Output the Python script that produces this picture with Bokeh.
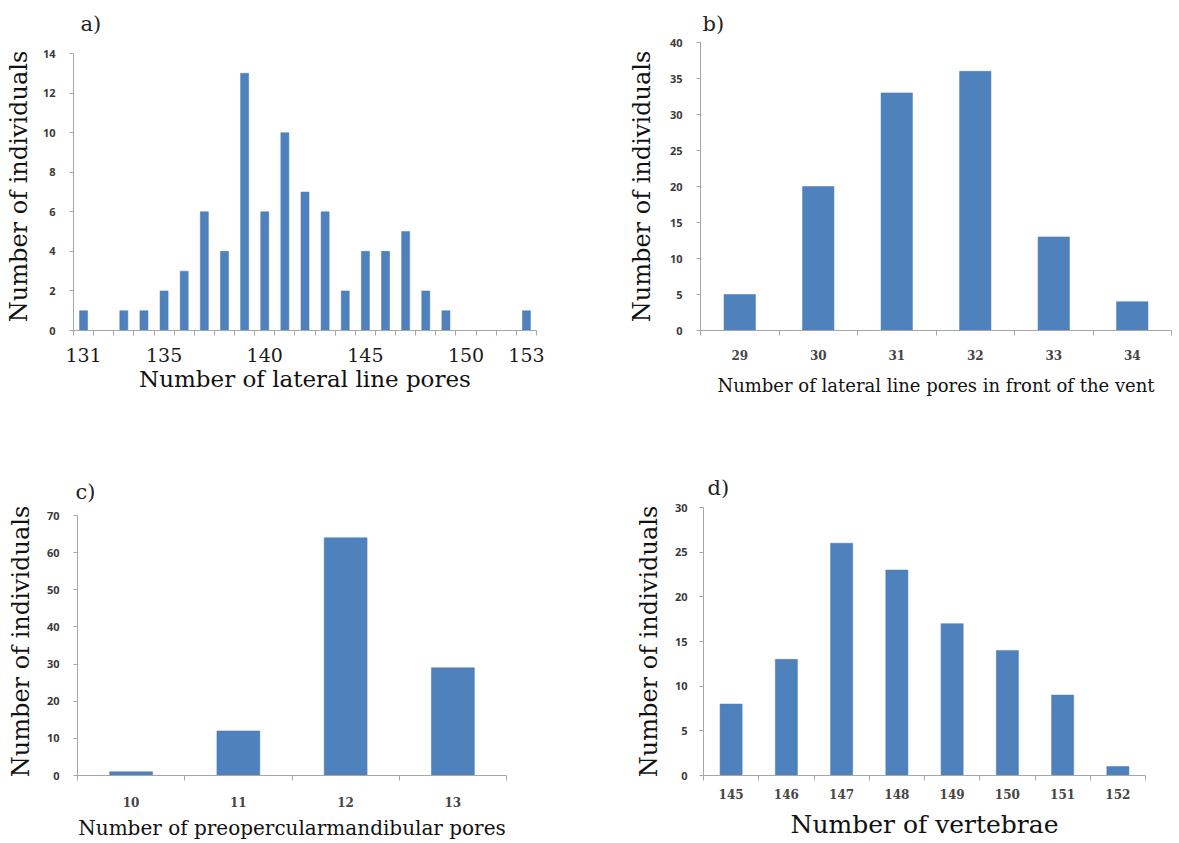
from bokeh.plotting import figure
from bokeh.models import Range1d, FixedTicker
from bokeh.layouts import row, column
from bokeh.embed import file_html
from bokeh.resources import INLINE

# ---------------- data ----------------
a_pores = [131, 133, 134, 135, 136, 137, 138, 139, 140, 141, 142, 143, 144, 145, 146, 147, 148, 149, 153]
a_counts = [1, 1, 1, 2, 3, 6, 4, 13, 6, 10, 7, 6, 2, 4, 4, 5, 2, 1, 1]
a_tick_labels = [131, 135, 140, 145, 150, 153]
a_range = [131, 153]

b_pores = [29, 30, 31, 32, 33, 34]
b_counts = [5, 20, 33, 36, 13, 4]

c_pores = [10, 11, 12, 13]
c_counts = [1, 12, 64, 29]

d_vertebrae = [145, 146, 147, 148, 149, 150, 151, 152]
d_counts = [8, 13, 26, 23, 17, 14, 9, 1]

BAR = "#4f81bd"
AXIS = "#a6a6a6"
SERIF = "DejaVu Serif"


def panel(letter, xs, ys, lo, hi, xticks, ymax, ystep, xlabel, w, h,
          borders, top_gap, xtick_font, xtick_size, xtick_style, xtick_color,
          xtick_standoff, xlabel_size, xlabel_standoff, ytick_standoff,
          ylabel_standoff, title_offset, title_standoff):
    left, right, top, bottom = borders
    frame_h = h - top - bottom
    y_end = ymax * frame_h / (frame_h - top_gap)
    p = figure(width=w, height=h, output_backend="svg", toolbar_location=None,
               x_range=Range1d(lo - 0.5, hi + 0.5), y_range=Range1d(0, y_end),
               min_border_left=left, min_border_right=right,
               min_border_top=top, min_border_bottom=bottom)
    p.vbar(x=xs, top=ys, width=0.4, bottom=0, fill_color=BAR,
           line_color="#4a7ab4", line_width=0.5)
    p.xgrid.visible = False
    p.ygrid.visible = False
    p.outline_line_color = None
    p.background_fill_color = "white"
    p.border_fill_color = "white"

    bounds = [lo - 0.5 + i for i in range(hi - lo + 2)]
    xa = p.xaxis[0]
    xa.ticker = FixedTicker(ticks=xticks, minor_ticks=bounds)
    xa.major_tick_out = 0
    xa.major_tick_in = 0
    xa.minor_tick_out = 5
    xa.minor_tick_in = 0
    xa.axis_line_color = AXIS
    xa.minor_tick_line_color = AXIS
    xa.major_label_text_font = xtick_font
    xa.major_label_text_font_size = xtick_size
    xa.major_label_text_font_style = xtick_style
    xa.major_label_text_color = xtick_color
    xa.major_label_standoff = xtick_standoff
    xa.axis_label = xlabel
    xa.axis_label_text_font = SERIF
    xa.axis_label_text_font_size = xlabel_size
    xa.axis_label_text_font_style = "normal"
    xa.axis_label_text_color = "#111111"
    xa.axis_label_standoff = xlabel_standoff

    ya = p.yaxis[0]
    ya.bounds = (0, ymax)
    ya.ticker = FixedTicker(ticks=list(range(0, ymax + 1, ystep)), minor_ticks=[])
    ya.major_tick_out = 4
    ya.major_tick_in = 0
    ya.minor_tick_out = 0
    ya.minor_tick_in = 0
    ya.axis_line_color = AXIS
    ya.major_tick_line_color = AXIS
    ya.major_label_text_font = "Open Sans"
    ya.major_label_text_font_size = "11px"
    ya.major_label_text_font_style = "bold"
    ya.major_label_text_color = "#3a3a3a"
    ya.major_label_standoff = ytick_standoff
    ya.axis_label = "Number of individuals"
    ya.axis_label_text_font = SERIF
    ya.axis_label_text_font_size = "24px"
    ya.axis_label_text_font_style = "normal"
    ya.axis_label_text_color = "#111111"
    ya.axis_label_standoff = ylabel_standoff

    p.title.text = letter
    p.title.align = "left"
    p.title.vertical_align = "top"
    p.title.offset = title_offset
    p.title.standoff = title_standoff
    p.title.text_font = SERIF
    p.title.text_font_size = "21px"
    p.title.text_font_style = "normal"
    p.title.text_color = "#222222"
    return p


pa = panel("a)", a_pores, a_counts, a_range[0], a_range[1], a_tick_labels, 14, 2,
           "Number of lateral line pores", 590, 420, (73, 54, 42, 90), 11,
           SERIF, "19px", "normal", "#1a1a1a", 12, "23px", 1, 14, 7, 7, 10)

pb = panel("b)", b_pores, b_counts, b_pores[0], b_pores[-1], b_pores, 40, 5,
           "Number of lateral line pores in front of the vent", 589, 420, (110, 8, 42, 90), 0,
           SERIF, "12px", "bold", "#454545", 14, "18px", 12, 14, 11, 2, 10)

pc = panel("c)", c_pores, c_counts, c_pores[0], c_pores[-1], c_pores, 70, 10,
           "Number of preopercularmandibular pores", 590, 423, (77, 84, 87, 68), 8,
           SERIF, "12px", "bold", "#454545", 16, "20px", 6, 14, 9, -2, 4)

pd_ = panel("d)", d_vertebrae, d_counts, d_vertebrae[0], d_vertebrae[-1], d_vertebrae, 30, 5,
            "Number of vertebrae", 589, 423, (113, 34, 87, 68), 0,
            SERIF, "12px", "bold", "#454545", 8, "25px", 8, 12, 9, 4, 12)

layout = column(row(pa, pb), row(pc, pd_))
open("out.html", "w").write(file_html(layout, INLINE))
